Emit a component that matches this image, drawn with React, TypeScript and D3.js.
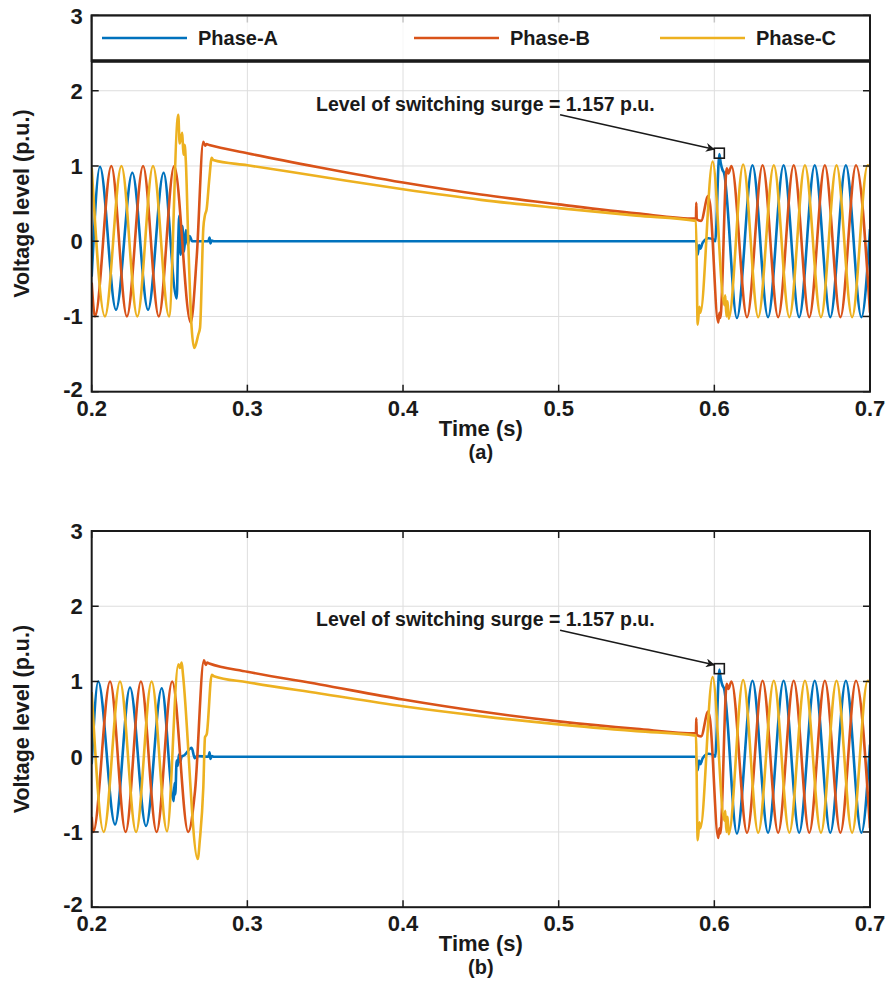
import React, { useEffect, useRef } from 'react';
import * as d3 from 'd3';

type Pt = [number, number];

const xTicks = [0.2, 0.3, 0.4, 0.5, 0.6, 0.7];
const yTicks = [-2, -1, 0, 1, 2, 3];
const phaseNames = ['Phase-A', 'Phase-B', 'Phase-C'];
const colors = ['#0072BD', '#D95319', '#EDB120'];

const surgeLabel = 'Level of switching surge = 1.157 p.u.';
const surgePoint: Pt = [0.6032, 1.17];
const arrowFrom: Pt = [0.5009, 1.68];
const arrowTo: Pt = [0.6004, 1.22];
const labelAt: Pt = [0.3441, 1.83];

// (a) pre-fault, fault and trapped charge decay
const aPhaseA: Pt[] = [
  [0.2, -0.47], [0.2053, 0.99], [0.2156, -0.91], [0.2261, 0.91], [0.2362, -0.91], [0.2462, 0.91],
  [0.2546, -0.76], [0.2555, -0.05], [0.2563, 0.34], [0.2571, -0.18], [0.2582, 0.2], [0.2593, -0.14],
  [0.2605, 0.15], [0.2617, -0.05], [0.263, 0.07], [0.2645, 0], [0.275, 0], [0.2757, 0.05],
  [0.2763, -0.03], [0.2772, 0.01], [0.2785, 0], [0.5882, 0],
];
const aPhaseB: Pt[] = [
  [0.2, -0.55], [0.2021, -1.0], [0.2126, 1.0], [0.2226, -1.0], [0.233, 1.0], [0.2431, -1.0],
  [0.253, 1.0], [0.2636, -1.08], [0.2675, -0.2], [0.2717, 1.32], [0.2728, 1.27], [0.2738, 1.29],
  [0.2755, 1.28], [0.3, 1.17], [0.3466, 0.98], [0.4, 0.78], [0.45, 0.62], [0.5, 0.49],
  [0.55, 0.37], [0.5882, 0.3],
];
const aPhaseC: Pt[] = [
  [0.2, 0.98], [0.2085, -1.0], [0.2191, 1.0], [0.2293, -1.0], [0.2394, 1.0], [0.2497, -1.0],
  [0.2556, 1.68], [0.2565, 1.3], [0.2572, 1.36], [0.2582, 1.44], [0.2589, 1.15], [0.2597, 1.28],
  [0.2605, 1.05], [0.2621, -0.05], [0.2642, -1.15], [0.2659, -1.42], [0.2685, -1.24], [0.2696, -1.15],
  [0.2717, 0.17], [0.2728, 0.35], [0.2738, 0.42], [0.2756, 0.84], [0.2771, 1.11], [0.278, 1.08],
  [0.3, 1.01], [0.3466, 0.86], [0.4, 0.69], [0.45, 0.55], [0.5, 0.44], [0.55, 0.34], [0.5882, 0.27],
];

// (b) pre-fault, fault and trapped charge decay
const bPhaseA: Pt[] = [
  [0.2, -0.1], [0.2042, 1.0], [0.215, -0.9], [0.2246, 0.92], [0.2349, -0.92], [0.245, 0.91],
  [0.2527, -0.59], [0.2532, -0.35], [0.2537, -0.5], [0.2546, -0.05], [0.2553, -0.12], [0.256, 0.03],
  [0.2568, -0.07], [0.2578, 0], [0.2595, 0.02], [0.2642, 0.12], [0.2662, -0.02], [0.2675, 0.01],
  [0.275, 0], [0.2757, 0.06], [0.2763, -0.03], [0.2772, 0.01], [0.2785, 0], [0.5882, 0],
];
const bPhaseB: Pt[] = [
  [0.2, -0.8], [0.201, -1.0], [0.2118, 1.0], [0.2218, -1.0], [0.2316, 1.0], [0.2417, -1.0],
  [0.2517, 1.0], [0.262, -1.0], [0.2664, -0.45], [0.2721, 1.28], [0.2733, 1.22], [0.2742, 1.25],
  [0.2755, 1.24], [0.3, 1.13], [0.3466, 0.96], [0.4, 0.76], [0.45, 0.6], [0.5, 0.47],
  [0.55, 0.37], [0.5882, 0.31],
];
const bPhaseC: Pt[] = [
  [0.2, 0.86], [0.2077, -1.0], [0.2182, 1.0], [0.2285, -1.0], [0.2385, 1.0], [0.2484, -0.99],
  [0.2557, 1.23], [0.2567, 1.18], [0.2578, 1.25], [0.2586, 1.1], [0.2681, -1.36], [0.2695, -1.1],
  [0.2717, -0.41], [0.2728, 0.26], [0.2739, 0.3], [0.2771, 1.09], [0.2785, 1.07], [0.3, 0.99],
  [0.3466, 0.84], [0.4, 0.67], [0.45, 0.54], [0.5, 0.43], [0.55, 0.34], [0.5882, 0.28],
];

// reclosing, same in both cases
const recloseA: Pt[] = [
  [0.5893, -0.18], [0.5902, -0.05], [0.591, -0.1], [0.5925, -0.02], [0.5963, 0.04], [0.5995, 0.02],
  [0.6006, 0], [0.6032, 1.157], [0.6041, 1.04], [0.6052, 0.95], [0.6062, 0.91], [0.6145, -1.02],
  [0.6245, 1.01], [0.6345, -1.01], [0.6445, 1.01], [0.6545, -1.01], [0.6645, 1.01], [0.6745, -1.01],
  [0.6845, 1.01], [0.6945, -1.01], [0.7, 0.16],
];
const recloseB: Pt[] = [
  [0.5884, 0.51], [0.5887, 0.29], [0.5915, 0.27], [0.596, 0.6], [0.5972, 0.5], [0.6025, -1.08],
  [0.6033, -0.95], [0.6038, -1.02], [0.608, 0.97], [0.609, 0.9], [0.611, 1.0], [0.621, -1.01],
  [0.631, 1.01], [0.641, -1.01], [0.651, 1.01], [0.661, -1.01], [0.671, 1.01], [0.681, -1.01],
  [0.691, 1.01], [0.7, -0.95],
];
const recloseC: Pt[] = [
  [0.5893, -1.11], [0.5904, -0.87], [0.591, -0.95], [0.5989, 1.06], [0.6065, -0.85], [0.607, -0.72],
  [0.6078, -1.0], [0.6085, -0.8], [0.6092, -1.03], [0.6185, 1.02], [0.6282, -1.01], [0.6382, 1.01],
  [0.6482, -1.01], [0.6582, 1.01], [0.6685, -1.01], [0.6785, 1.01], [0.6885, -1.01], [0.6985, 1.01],
  [0.7, 0.99],
];

const W = 889;
const H = 994;
const left = 91.7;
const right = 870;
const plotH = 376.2;
const font = '"Liberation Sans", Arial, sans-serif';

function drawPanel(svg: any, top: number, series: Pt[][], caption: string, withLegend: boolean, id: string) {
  const x = d3.scaleLinear().domain([0.2, 0.7]).range([left, right]);
  const y = d3.scaleLinear().domain([-2, 3]).range([top + plotH, top]);
  const g = svg.append('g');

  g.append('clipPath').attr('id', id)
    .append('rect').attr('x', left).attr('y', top).attr('width', right - left).attr('height', plotH);

  // grid
  g.selectAll('.gx').data(xTicks.slice(1, -1)).enter().append('line')
    .attr('x1', (d: number) => x(d)).attr('x2', (d: number) => x(d))
    .attr('y1', top).attr('y2', top + plotH)
    .attr('stroke', '#dedede').attr('stroke-width', 1);
  g.selectAll('.gy').data(yTicks.slice(1, -1)).enter().append('line')
    .attr('x1', left).attr('x2', right)
    .attr('y1', (d: number) => y(d)).attr('y2', (d: number) => y(d))
    .attr('stroke', '#dedede').attr('stroke-width', 1);

  const line = d3.line<Pt>().x(d => x(d[0])).y(d => y(d[1])).curve(d3.curveMonotoneX);

  g.append('g').attr('clip-path', `url(#${id})`)
    .selectAll('path').data(series).enter().append('path')
    .attr('d', (d: Pt[]) => line(d))
    .attr('fill', 'none')
    .attr('stroke', (d: Pt[], i: number) => colors[i])
    .attr('stroke-width', 2.6)
    .attr('stroke-linejoin', 'round');

  // box and ticks
  g.append('rect').attr('x', left).attr('y', top).attr('width', right - left).attr('height', plotH)
    .attr('fill', 'none').attr('stroke', '#1a1a1a').attr('stroke-width', 2);
  xTicks.forEach(t => {
    g.append('line').attr('x1', x(t)).attr('x2', x(t)).attr('y1', top + plotH).attr('y2', top + plotH - 7)
      .attr('stroke', '#1a1a1a').attr('stroke-width', 1.5);
    g.append('line').attr('x1', x(t)).attr('x2', x(t)).attr('y1', top).attr('y2', top + 7)
      .attr('stroke', '#1a1a1a').attr('stroke-width', 1.5);
  });
  yTicks.forEach(v => {
    g.append('line').attr('x1', left).attr('x2', left + 7).attr('y1', y(v)).attr('y2', y(v))
      .attr('stroke', '#1a1a1a').attr('stroke-width', 1.5);
    g.append('line').attr('x1', right).attr('x2', right - 7).attr('y1', y(v)).attr('y2', y(v))
      .attr('stroke', '#1a1a1a').attr('stroke-width', 1.5);
  });

  g.selectAll('.xl').data(xTicks).enter().append('text')
    .attr('x', (d: number) => x(d)).attr('y', top + plotH + 24)
    .attr('text-anchor', 'middle').attr('font-family', font).attr('font-weight', 'bold').attr('font-size', 22)
    .attr('fill', '#1a1a1a').text((d: number) => d3.format('.1f')(d));
  g.selectAll('.yl').data(yTicks).enter().append('text')
    .attr('x', left - 9).attr('y', (d: number) => y(d) + (d === -2 ? 5 : 8))
    .attr('text-anchor', 'end').attr('font-family', font).attr('font-weight', 'bold').attr('font-size', 22)
    .attr('fill', '#1a1a1a').text((d: number) => d);

  g.append('text').attr('x', (left + right) / 2).attr('y', top + plotH + 44)
    .attr('text-anchor', 'middle').attr('font-family', font).attr('font-weight', 'bold').attr('font-size', 22)
    .attr('fill', '#1a1a1a').text('Time (s)');
  g.append('text').attr('x', (left + right) / 2).attr('y', top + plotH + 67)
    .attr('text-anchor', 'middle').attr('font-family', font).attr('font-weight', 'bold').attr('font-size', 20)
    .attr('fill', '#1a1a1a').text(caption);
  g.append('text')
    .attr('transform', `translate(22,${top + plotH / 2}) rotate(-90)`)
    .attr('text-anchor', 'middle').attr('dominant-baseline', 'central')
    .attr('font-family', font).attr('font-weight', 'bold').attr('font-size', 21.5)
    .attr('fill', '#1a1a1a').text('Voltage level (p.u.)');

  // annotation
  g.append('text').attr('x', x(labelAt[0])).attr('y', y(labelAt[1]))
    .attr('dominant-baseline', 'central').attr('font-family', font).attr('font-weight', 'bold')
    .attr('font-size', 19.5).attr('fill', '#1a1a1a').text(surgeLabel);
  g.append('line')
    .attr('x1', x(arrowFrom[0])).attr('y1', y(arrowFrom[1]))
    .attr('x2', x(arrowTo[0])).attr('y2', y(arrowTo[1]))
    .attr('stroke', '#1a1a1a').attr('stroke-width', 1.6).attr('marker-end', 'url(#arrowhead)');
  g.append('rect').attr('x', x(surgePoint[0]) - 5).attr('y', y(surgePoint[1]) - 5)
    .attr('width', 10).attr('height', 10).attr('fill', 'none')
    .attr('stroke', '#1a1a1a').attr('stroke-width', 1.6);

  if (withLegend) {
    const legBottom = 61;
    g.append('rect').attr('x', left).attr('y', top).attr('width', right - left).attr('height', legBottom - top)
      .attr('fill', '#fff').attr('fill-opacity', 0.75);
    g.append('line').attr('x1', left).attr('x2', right).attr('y1', legBottom).attr('y2', legBottom)
      .attr('stroke', '#111').attr('stroke-width', 3.5);
    g.append('rect').attr('x', left).attr('y', top).attr('width', right - left).attr('height', legBottom - top)
      .attr('fill', 'none').attr('stroke', '#1a1a1a').attr('stroke-width', 2);
    const legX = [102, 414, 660];
    phaseNames.forEach((name, i) => {
      g.append('line').attr('x1', legX[i]).attr('x2', legX[i] + 85).attr('y1', 38).attr('y2', 38)
        .attr('stroke', colors[i]).attr('stroke-width', 2.6);
      g.append('text').attr('x', legX[i] + 96).attr('y', 38).attr('dominant-baseline', 'central')
        .attr('font-family', font).attr('font-weight', 'bold').attr('font-size', 20)
        .attr('fill', '#1a1a1a').text(name);
    });
  }
}

export default function App() {
  const ref = useRef<SVGSVGElement>(null);

  useEffect(() => {
    const svg = d3.select(ref.current);
    svg.selectAll('*').remove();
    svg.append('defs').append('marker')
      .attr('id', 'arrowhead').attr('viewBox', '0 0 10 10').attr('refX', 10).attr('refY', 5)
      .attr('markerWidth', 13).attr('markerHeight', 9).attr('markerUnits', 'userSpaceOnUse')
      .attr('orient', 'auto')
      .append('path').attr('d', 'M0,0 L10,5 L0,10 L3,5 Z').attr('fill', '#1a1a1a');

    drawPanel(svg, 15.5, [[...aPhaseA, ...recloseA], [...aPhaseB, ...recloseB], [...aPhaseC, ...recloseC]], '(a)', true, 'clipA');
    drawPanel(svg, 531, [[...bPhaseA, ...recloseA], [...bPhaseB, ...recloseB], [...bPhaseC, ...recloseC]], '(b)', false, 'clipB');
  }, []);

  return (
    <svg ref={ref} width={W} height={H}
      style={{ position: 'absolute', left: 0, top: 0, background: '#fff', display: 'block' }} />
  );
}
